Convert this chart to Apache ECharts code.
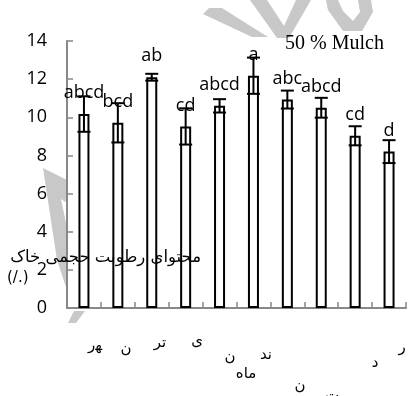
<!DOCTYPE html>
<html>
<head>
<meta charset="utf-8">
<script src="https://cdn.jsdelivr.net/npm/echarts@6/dist/echarts.min.js"></script>
<style>
  html, body { margin: 0; padding: 0; background: #fff; }
  #main { width: 408px; height: 396px; }
</style>
</head>
<body>
<div id="main"></div>
<script>
// data
var categories = ['T1', 'T2', 'T3', 'T4', 'T5', 'T6', 'T7', 'T8', 'T9', 'T10'];
var means = [10.17, 9.71, 12.1, 9.52, 10.6, 12.18, 10.93, 10.5, 9.03, 8.2];
var errors = [0.93, 1.03, 0.18, 0.95, 0.35, 0.95, 0.47, 0.52, 0.5, 0.6];
var letters = ['abcd', 'bcd', 'ab', 'cd', 'abcd', 'a', 'abc', 'abcd', 'cd', 'd'];
var yMin = 0, yMax = 14, yStep = 2;
var titleText = '50 % Mulch';
var yName = 'محتوای رطوبت حجمی خاک';
var yUnit = '(/.)';
// broken x label fragments as they show in the picture
var xFragments = ['ﻬر', 'ن', 'تر', 'ی', 'ن', 'ند', 'ماه', 'ن', 'د', 'ر', 'ت'];
var fragPos = [[95, 346], [126, 349], [160, 343], [197, 341], [230, 357], [266, 355], [246, 374], [300, 386], [375, 363], [402, 348], [332, 396]];

var errData = means.map(function (m, i) { return [i, m - errors[i], m + errors[i]]; });

var chart = echarts.init(document.getElementById('main'));

var gray = '#c8c8c8';
var graphics = [
    // watermark bits
    { type: 'polygon', z: -10, shape: { points: [[43, 168], [67, 180], [67, 203], [61, 199], [67, 228], [67, 290], [57, 260]] }, style: { fill: gray } },
    { type: 'polygon', z: -10, shape: { points: [[68, 323], [76, 323], [85, 311], [74, 311]] }, style: { fill: gray } },
    { type: 'polygon', z: -10, shape: { points: [[203, 14], [209, 8], [222, 8], [268, 37], [252, 37]] }, style: { fill: gray } },
    { type: 'polygon', z: -10, shape: { points: [[250, 0], [267, 0], [284, 26], [296, 0], [311, 0], [289, 38], [277, 38]] }, style: { fill: gray } },
    { type: 'polygon', z: -10, shape: { points: [[328, 10], [343, 31], [362, 31], [373, 12], [371, 0], [358, 0], [360, 12], [353, 21], [343, 11], [338, 0], [326, 0]] }, style: { fill: gray } },
    {
        type: 'text', left: 285, top: 34, z: 10,
        style: { text: titleText, font: '20px "Liberation Serif"', fill: '#000' }
    },
    {
        type: 'text', x: 201, y: 258, z: 10,
        style: { text: yName, font: '16.5px "DejaVu Sans"', fill: '#000', align: 'right', verticalAlign: 'middle' }
    },
    {
        type: 'text', x: 7, y: 278, z: 10,
        style: { text: yUnit, font: '15px "DejaVu Sans"', fill: '#000', align: 'left', verticalAlign: 'middle' }
    }
];
xFragments.forEach(function (t, i) {
    graphics.push({
        type: 'text', x: fragPos[i][0], y: fragPos[i][1],
        style: { text: t, font: '15px "DejaVu Sans"', fill: '#000', align: 'center', verticalAlign: 'middle' }
    });
});

chart.setOption({
    animation: false,
    backgroundColor: '#fff',
    grid: { left: 67, top: 41, width: 339, height: 267 },
    xAxis: {
        type: 'category',
        data: categories,
        axisLine: { lineStyle: { color: '#888', width: 2 } },
        axisTick: { show: true, inside: true, length: 6, lineStyle: { color: '#888', width: 1.5 } },
        axisLabel: { show: false },
        splitLine: { show: false }
    },
    yAxis: {
        type: 'value',
        min: yMin,
        max: yMax,
        interval: yStep,
        axisLine: { show: true, lineStyle: { color: '#888', width: 2 } },
        axisTick: { show: true, inside: true, length: 6, lineStyle: { color: '#888', width: 1.5 } },
        axisLabel: { color: '#000', fontSize: 18, fontFamily: 'Open Sans', margin: 20 },
        splitLine: { show: false }
    },
    series: [
        {
            type: 'bar',
            data: means,
            barWidth: 11,
            itemStyle: { color: '#fff', borderColor: '#000', borderWidth: 2 },
            label: {
                show: true,
                position: 'top',
                distance: 12,
                color: '#000',
                fontSize: 18,
                fontFamily: 'Open Sans',
                formatter: function (p) { return letters[p.dataIndex]; }
            },
            z: 2
        },
        {
            type: 'custom',
            data: errData,
            z: 3,
            renderItem: function (params, api) {
                var x = api.value(0);
                var lo = api.coord([x, api.value(1)]);
                var hi = api.coord([x, api.value(2)]);
                var hw = 6.5;
                var st = { stroke: '#000', lineWidth: 2 };
                return {
                    type: 'group',
                    children: [
                        { type: 'line', shape: { x1: lo[0], y1: lo[1], x2: hi[0], y2: hi[1] }, style: st },
                        { type: 'line', shape: { x1: hi[0] - hw, y1: hi[1], x2: hi[0] + hw, y2: hi[1] }, style: st },
                        { type: 'line', shape: { x1: lo[0] - hw, y1: lo[1], x2: lo[0] + hw, y2: lo[1] }, style: st }
                    ]
                };
            }
        }
    ],
    graphic: graphics
});
</script>
</body>
</html>
